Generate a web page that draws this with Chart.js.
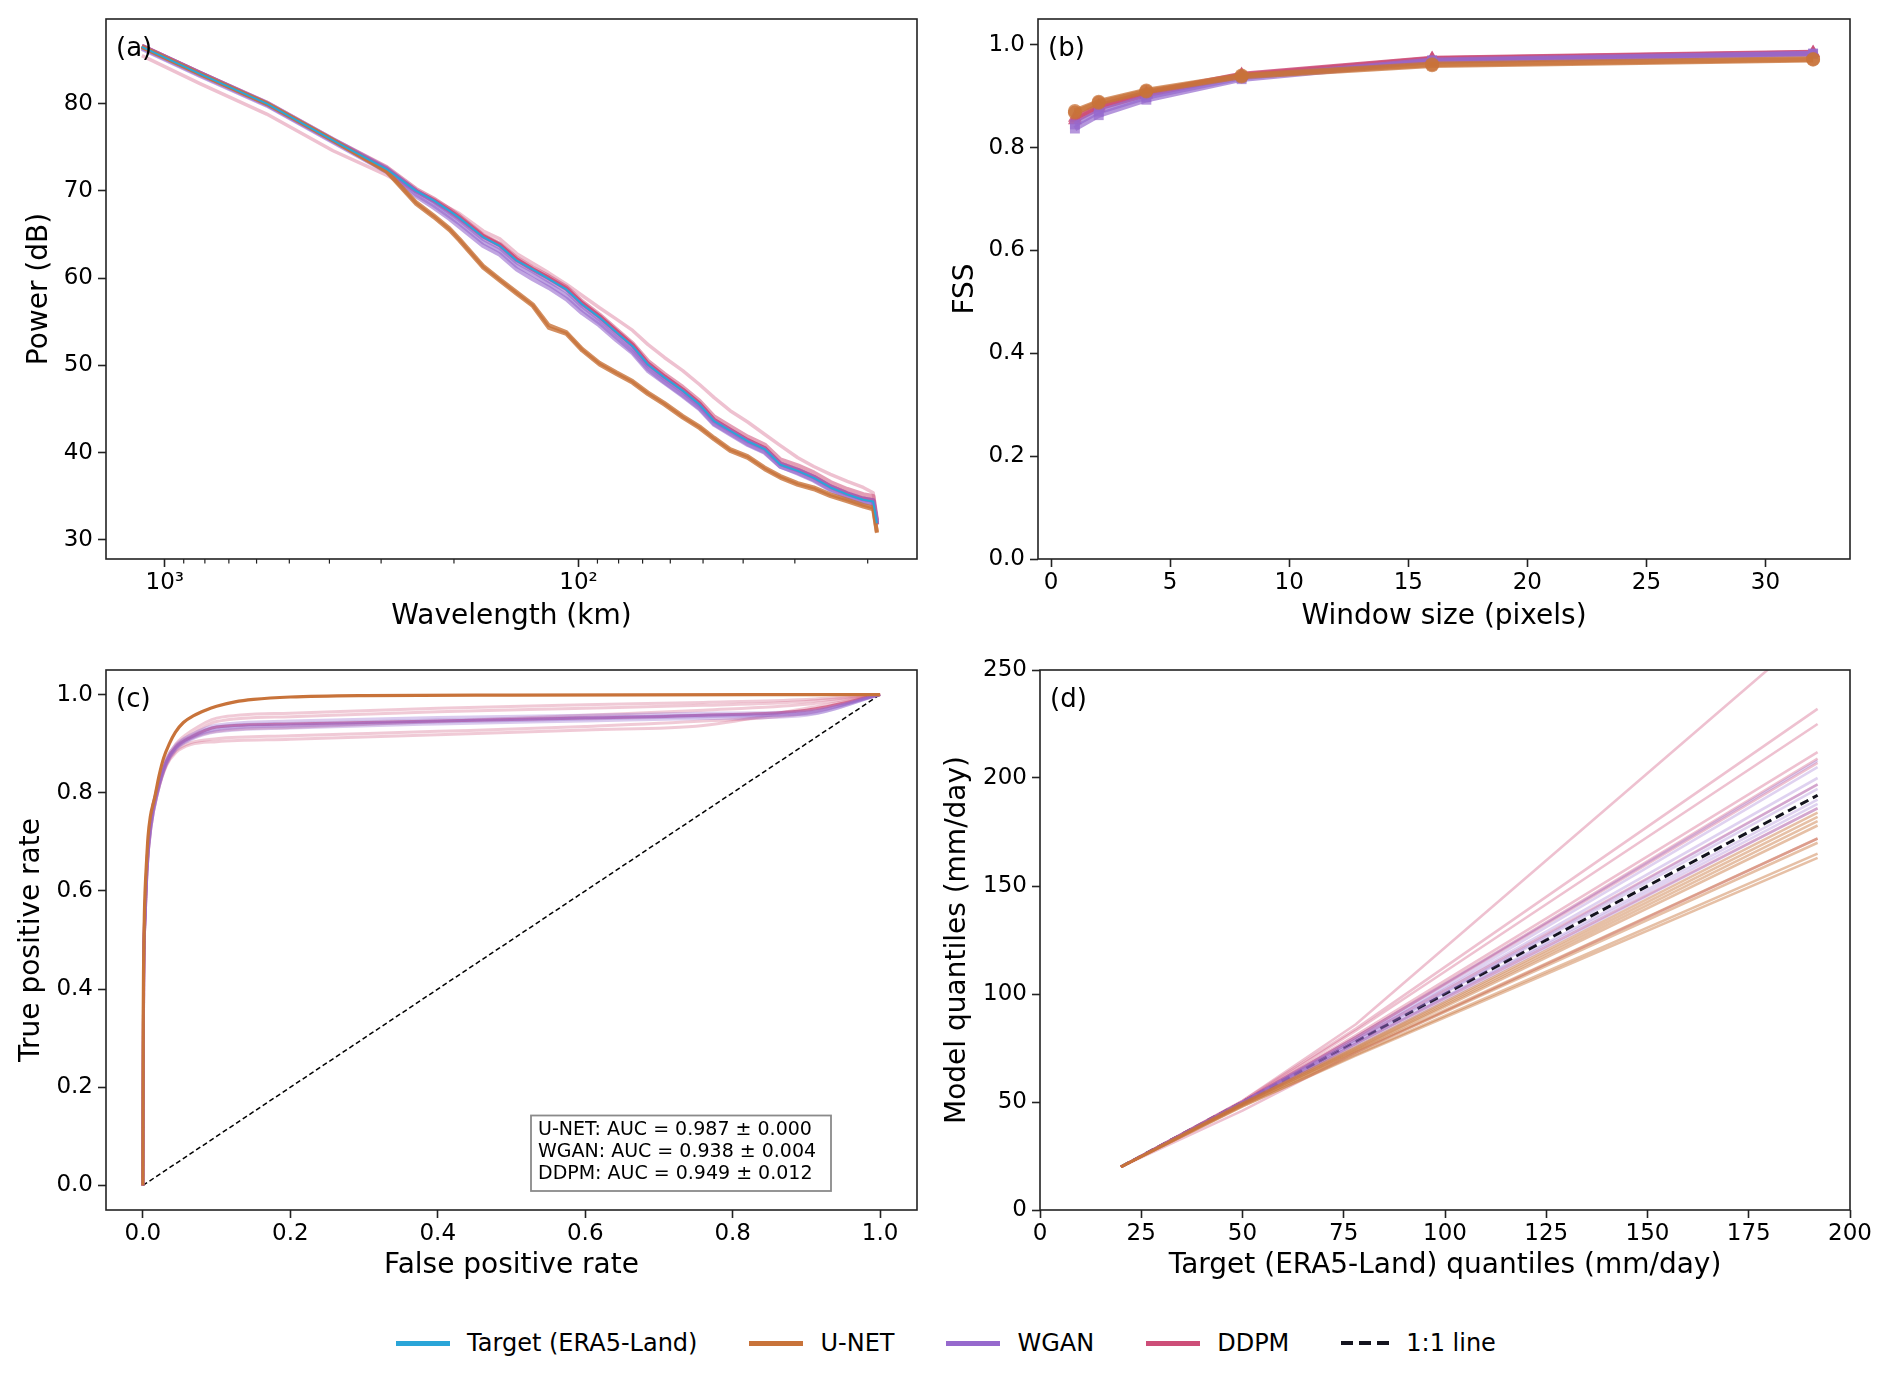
<!DOCTYPE html>
<html lang="en">
<head>
<meta charset="UTF-8">
<title>Downscaling evaluation panels</title>
<script src="https://cdn.jsdelivr.net/npm/chart.js"></script>
<style>
  body { margin: 0; width: 1892px; height: 1376px; background: #fff; position: relative; overflow: hidden; font-family: 'DejaVu Sans', sans-serif; }
  .panel { position: absolute; }
  #legend { position: absolute; left: 0; width: 1892px; top: 1326px; height: 34px; display: flex; justify-content: center; align-items: center; gap: 52px; font-size: 24px; color: #000; }
  #legend .item { display: flex; align-items: center; }
  #legend .sw { width: 54px; height: 5px; margin-right: 17px; }
</style>
</head>
<body>

<div class="panel" style="left:0;top:0;width:946px;height:660px"><canvas id="chartA"></canvas></div>
<div class="panel" style="left:930px;top:0;width:962px;height:660px"><canvas id="chartB"></canvas></div>
<div class="panel" style="left:0;top:640px;width:946px;height:660px"><canvas id="chartC"></canvas></div>
<div class="panel" style="left:930px;top:640px;width:962px;height:660px"><canvas id="chartD"></canvas></div>
<div id="legend"></div>

<script type="text/javascript">
    // ---- series names / colours
    var seriesNames = ['Target (ERA5-Land)', 'U-NET', 'WGAN', 'DDPM', '1:1 line'];
    var C_TARGET = '#2aa5d8', C_UNET = '#c8733a', C_WGAN = '#9669cd', C_DDPM = '#cd4e78', C_ONE = '#14141e';

    // ---- (a) power spectra
    var wavelengths = [1136, 822, 567, 392, 291, 247, 224, 205, 194, 170, 155, 141, 129, 118, 107, 98, 89, 81, 74, 68, 62, 56, 51, 47, 43, 39, 35.5, 32.5, 29.5, 27, 24.6, 22.4, 20.5, 19.4, 19];
    var psdTarget = [86.5, 83.4, 80.0, 75.8, 72.5, 70.0, 68.9, 67.7, 66.9, 64.7, 63.7, 62.0, 61.0, 59.9, 58.7, 57.0, 55.5, 53.8, 52.2, 50.1, 48.6, 47.1, 45.5, 43.6, 42.5, 41.3, 40.4, 38.6, 37.9, 37.1, 36.0, 35.2, 34.6, 34.4, 31.9];
    var psdUnet = [
        [86.5, 83.4, 80.0, 75.8, 72.2, 68.5, 67.0, 65.5, 64.3, 61.2, 59.7, 58.2, 56.8, 54.3, 53.6, 51.7, 50.1, 49.0, 48.0, 46.7, 45.5, 44.0, 42.8, 41.5, 40.2, 39.4, 38.1, 37.1, 36.3, 35.8, 35.0, 34.4, 33.8, 33.5, 30.8],
        [86.5, 83.4, 80.0, 75.8, 72.3, 68.7, 67.2, 65.7, 64.5, 61.4, 59.9, 58.4, 57.0, 54.6, 53.8, 51.9, 50.3, 49.2, 48.2, 46.9, 45.7, 44.2, 43.0, 41.7, 40.4, 39.6, 38.3, 37.3, 36.5, 36.0, 35.2, 34.6, 34.0, 33.7, 30.9]
    ];
    var psdWgan = [
        [86.4, 83.3, 79.9, 75.7, 72.3, 69.6, 68.4, 67.1, 66.3, 64.1, 63.1, 61.4, 60.4, 59.3, 58.0, 56.4, 54.9, 53.2, 51.6, 49.6, 48.1, 46.6, 45.1, 43.3, 42.2, 41.0, 40.1, 38.4, 37.7, 36.9, 35.8, 35.0, 34.4, 34.2, 31.8],
        [86.6, 83.5, 80.1, 75.9, 72.6, 70.0, 68.8, 67.5, 66.7, 64.5, 63.5, 61.8, 60.8, 59.7, 58.5, 56.8, 55.3, 53.6, 52.0, 50.0, 48.5, 47.0, 45.4, 43.6, 42.5, 41.3, 40.4, 38.7, 38.0, 37.2, 36.1, 35.3, 34.7, 34.5, 32.0],
        [86.3, 83.2, 79.8, 75.6, 72.2, 69.4, 68.1, 66.8, 65.9, 63.7, 62.7, 61.0, 59.9, 58.9, 57.6, 56.0, 54.6, 52.9, 51.4, 49.4, 48.0, 46.5, 45.0, 43.2, 42.1, 40.9, 40.0, 38.4, 37.6, 36.8, 35.7, 34.9, 34.3, 34.1, 31.7]
    ];
    var psdDdpm = [
        [86.6, 83.5, 80.0, 75.8, 72.5, 70.0, 68.9, 67.7, 66.9, 64.8, 63.8, 62.1, 61.0, 60.0, 58.8, 57.1, 55.6, 53.9, 52.3, 50.2, 48.7, 47.2, 45.6, 43.7, 42.6, 41.4, 40.5, 38.7, 38.0, 37.2, 36.1, 35.3, 34.7, 34.5, 31.8],
        [85.5, 82.3, 78.8, 74.6, 71.8, 70.0, 69.0, 68.0, 67.4, 65.4, 64.5, 62.8, 61.7, 60.6, 59.3, 58.0, 56.6, 55.3, 54.0, 52.4, 50.9, 49.4, 47.8, 46.3, 44.8, 43.5, 42.1, 40.8, 39.4, 38.4, 37.5, 36.7, 36.0, 35.4, 32.3],
        [86.6, 83.5, 80.1, 75.9, 72.7, 70.2, 69.1, 67.9, 67.1, 64.9, 63.9, 62.3, 61.2, 60.2, 59.0, 57.3, 55.8, 54.1, 52.5, 50.5, 49.0, 47.5, 45.9, 44.1, 43.0, 41.8, 40.9, 39.2, 38.5, 37.7, 36.6, 35.8, 35.2, 35.0, 32.2]
    ];
    var psdMajorTicks = [100, 1000];
    var psdMinorTicks = [20, 30, 40, 50, 60, 70, 80, 90, 200, 300, 400, 500, 600, 700, 800, 900];
    var powerTicks = [30, 40, 50, 60, 70, 80];

    // ---- (b) fractions skill score
    var windowSizes = [1, 2, 4, 8, 16, 32];
    var fssUnet = [[0.871, 0.889, 0.911, 0.940, 0.962, 0.972], [0.868, 0.887, 0.909, 0.938, 0.960, 0.971]];
    var fssWgan = [[0.837, 0.863, 0.893, 0.933, 0.968, 0.982], [0.845, 0.870, 0.898, 0.936, 0.970, 0.983]];
    var fssDdpm = [[0.853, 0.877, 0.903, 0.940, 0.972, 0.984], [0.858, 0.881, 0.906, 0.942, 0.973, 0.985]];
    var windowTicks = [0, 5, 10, 15, 20, 25, 30];
    var fssTicks = [0, 0.2, 0.4, 0.6, 0.8, 1.0];

    // ---- (c) ROC curves
    var rocUnetFpr = [0, 0.0005, 0.001, 0.002, 0.003, 0.005, 0.007, 0.01, 0.016, 0.022, 0.028, 0.036, 0.044, 0.055, 0.069, 0.085, 0.1, 0.125, 0.15, 0.2, 0.3, 0.5, 1.0];
    var rocUnetTpr = [0, 0.35, 0.45, 0.55, 0.60, 0.66, 0.71, 0.75, 0.79, 0.835, 0.87, 0.90, 0.923, 0.943, 0.957, 0.968, 0.976, 0.985, 0.990, 0.995, 0.998, 0.999, 1.0];
    var rocFpr = [0, 0.001, 0.003, 0.006, 0.011, 0.02, 0.032, 0.045, 0.065, 0.1, 0.2, 0.4, 0.6, 0.76, 0.9, 1.0];
    var rocWgan = [
        [0, 0.40, 0.54, 0.65, 0.73, 0.80, 0.86, 0.890, 0.910, 0.928, 0.936, 0.944, 0.950, 0.955, 0.962, 1],
        [0, 0.41, 0.55, 0.66, 0.74, 0.81, 0.865, 0.895, 0.915, 0.934, 0.941, 0.948, 0.953, 0.957, 0.960, 1],
        [0, 0.40, 0.54, 0.65, 0.73, 0.80, 0.858, 0.888, 0.908, 0.924, 0.932, 0.940, 0.946, 0.951, 0.958, 1],
        [0, 0.42, 0.56, 0.67, 0.75, 0.815, 0.87, 0.898, 0.918, 0.938, 0.946, 0.953, 0.958, 0.962, 0.966, 1],
        [0, 0.40, 0.545, 0.655, 0.735, 0.805, 0.862, 0.892, 0.912, 0.930, 0.938, 0.946, 0.952, 0.958, 0.964, 1]
    ];
    var rocDdpm = [
        [0, 0.42, 0.56, 0.67, 0.75, 0.81, 0.868, 0.900, 0.925, 0.952, 0.962, 0.972, 0.979, 0.984, 0.990, 1],
        [0, 0.41, 0.55, 0.66, 0.74, 0.805, 0.862, 0.895, 0.918, 0.945, 0.955, 0.965, 0.972, 0.978, 0.986, 1],
        [0, 0.40, 0.54, 0.65, 0.73, 0.80, 0.855, 0.882, 0.898, 0.904, 0.909, 0.918, 0.928, 0.937, 0.972, 1],
        [0, 0.40, 0.54, 0.65, 0.73, 0.80, 0.857, 0.886, 0.902, 0.910, 0.916, 0.925, 0.935, 0.946, 0.962, 1],
        [0, 0.41, 0.55, 0.66, 0.74, 0.805, 0.86, 0.89, 0.91, 0.925, 0.933, 0.945, 0.958, 0.968, 0.980, 1],
        [0, 0.42, 0.56, 0.67, 0.75, 0.81, 0.865, 0.893, 0.913, 0.934, 0.940, 0.946, 0.952, 0.958, 0.968, 1]
    ];
    var rateTicks = [0, 0.2, 0.4, 0.6, 0.8, 1.0];
    var aucLabels = ['U-NET: AUC = 0.987 \u00b1 0.000', 'WGAN: AUC = 0.938 \u00b1 0.004', 'DDPM: AUC = 0.949 \u00b1 0.012'];

    // ---- (d) quantile-quantile
    var qqTarget = [20, 50, 78, 192];
    var qqUnet = [[20, 49.5, 75.5, 184], [20, 49.5, 75, 182], [20, 49, 74.5, 180], [20, 49, 74, 178], [20, 48.5, 73.5, 172], [20, 48.5, 73, 170], [20, 48, 72, 165], [20, 48, 71.5, 163]];
    var qqWgan = [[20, 50, 80, 208], [20, 50, 79, 205], [20, 50, 79, 200], [20, 50, 78, 197], [20, 49.5, 78, 195], [20, 49.5, 77, 190], [20, 49.5, 77, 188], [20, 49, 76, 186]];
    var qqDdpm = [[20, 50.5, 86, 270], [20, 50.5, 84, 232], [20, 50, 83, 225], [20, 50, 81, 212], [20, 50, 80, 209], [20, 50, 80, 207], [20, 49.5, 79, 197], [20, 49, 77, 186], [20, 46, 73, 172]];
    var qqXTicks = [0, 25, 50, 75, 100, 125, 150, 175, 200];
    var qqYTicks = [0, 50, 100, 150, 200, 250];

    var FONT = "'DejaVu Sans', sans-serif";

    function rgba(hex, a) {
        var n = parseInt(hex.slice(1), 16);
        return 'rgba(' + (n >> 16) + ',' + ((n >> 8) & 255) + ',' + (n & 255) + ',' + a + ')';
    }
    function pts(xs, ys) {
        return xs.map(function (x, i) { return {x: x, y: ys[i]}; });
    }
    function line(xs, ys, color, width, extra) {
        return Object.assign({data: pts(xs, ys), borderColor: color, borderWidth: width,
            pointRadius: 0, tension: 0, fill: false, borderJoinStyle: 'round'}, extra || {});
    }
    var fix1 = function (v) { return Number(v).toFixed(1); };
    var fix0 = function (v) { return String(Math.round(v)); };

    function axis(o) {
        return {
            type: o.type || 'linear', min: o.min, max: o.max, reverse: !!o.reverse,
            afterBuildTicks: function (s) { s.ticks = o.ticks.map(function (v) { return {value: v}; }); },
            afterFit: function (s) {
                if (s.isHorizontal()) s.height = o.size; else s.width = o.size;
                s.paddingLeft = s.paddingRight = s.paddingTop = s.paddingBottom = 0;
            },
            grid: {display: true, drawOnChartArea: false, drawTicks: true, tickLength: 8, tickWidth: 1.6, tickColor: '#222'},
            border: {display: false},
            ticks: {color: '#000', font: {family: FONT, size: 23}, padding: o.tickPad, autoSkip: false, maxRotation: 0, callback: o.fmt},
            title: {display: true, text: o.title, color: '#000', font: {family: FONT, size: 28}, padding: o.titlePad}
        };
    }

    // frame, minor ticks, panel letter, text box
    var decor = {
        id: 'decor',
        afterDraw: function (chart, args, opts) {
            var ctx = chart.ctx, a = chart.chartArea;
            ctx.save();
            if (opts.minor) {
                var xs = chart.scales.x;
                ctx.strokeStyle = '#222';
                ctx.lineWidth = 1.2;
                opts.minor.forEach(function (v) {
                    var px = xs.getPixelForValue(v);
                    ctx.beginPath();
                    ctx.moveTo(px, a.bottom);
                    ctx.lineTo(px, a.bottom + 4.6);
                    ctx.stroke();
                });
            }
            ctx.strokeStyle = '#222';
            ctx.lineWidth = 1.6;
            ctx.strokeRect(a.left, a.top, a.right - a.left, a.bottom - a.top);
            ctx.fillStyle = '#000';
            ctx.font = '26px ' + FONT;
            ctx.textBaseline = 'middle';
            ctx.textAlign = 'left';
            ctx.fillText(opts.label, a.left + 10, a.top + 30);
            if (opts.box) {
                var b = opts.box;
                var x0 = a.right - b.right - b.w, y0 = a.bottom - b.bottom - b.h;
                ctx.fillStyle = '#fff';
                ctx.fillRect(x0, y0, b.w, b.h);
                ctx.strokeStyle = '#8a8a8a';
                ctx.lineWidth = 1.8;
                ctx.strokeRect(x0, y0, b.w, b.h);
                ctx.fillStyle = '#000';
                ctx.font = '19px ' + FONT;
                b.lines.forEach(function (t, i) { ctx.fillText(t, x0 + 7, y0 + 15 + i * 21.7); });
            }
            ctx.restore();
        }
    };

    function makeChart(id, datasets, scales, padding, decorOpts) {
        return new Chart(document.getElementById(id), {
            type: 'line',
            data: {datasets: datasets},
            options: {
                responsive: true, maintainAspectRatio: false, animation: false, events: [],
                layout: {padding: padding},
                scales: scales,
                plugins: {legend: {display: false}, tooltip: {enabled: false}, decor: decorOpts}
            },
            plugins: [decor]
        });
    }

    // ---- (a)
    var dsA = [line(wavelengths, psdTarget, C_TARGET, 2)];
    psdUnet.forEach(function (m) { dsA.push(line(wavelengths, m, rgba(C_UNET, 0.8), 4)); });
    psdWgan.forEach(function (m) { dsA.push(line(wavelengths, m, rgba(C_WGAN, 0.6), 4.5)); });
    psdDdpm.forEach(function (m, i) { dsA.push(line(wavelengths, m, rgba(C_DDPM, i === 1 ? 0.35 : (i === 0 ? 0.95 : 0.55)), i === 1 ? 3.5 : 4.5)); });
    makeChart('chartA', dsA, {
        x: axis({type: 'logarithmic', min: 15.2, max: 1387, reverse: true, ticks: psdMajorTicks, size: 101, tickPad: 2,
            fmt: function (v) { return v === 1000 ? '10\u00b3' : (v === 100 ? '10\u00b2' : ''); },
            title: 'Wavelength (km)', titlePad: 26}),
        y: axis({min: 27.8, max: 89.7, ticks: powerTicks, size: 106, tickPad: 5, fmt: fix0, title: 'Power (dB)', titlePad: 23})
    }, {left: 0, right: 29, top: 19, bottom: 0}, {label: '(a)', minor: psdMinorTicks});

    // ---- (b)
    var dsB = [];
    function fssSet(list, color, alpha, style, rad) {
        list.forEach(function (m) {
            dsB.push(line(windowSizes, m, rgba(color, alpha), 5.5, {pointRadius: rad, pointStyle: style,
                pointBackgroundColor: rgba(color, alpha), pointBorderWidth: 0}));
        });
    }
    fssSet(fssUnet, C_UNET, 0.75, 'circle', 7);
    fssSet(fssWgan, C_WGAN, 0.7, 'rect', 7);
    fssSet(fssDdpm, C_DDPM, 0.85, 'triangle', 8);
    makeChart('chartB', dsB, {
        x: axis({min: -0.55, max: 33.55, ticks: windowTicks, size: 101, tickPad: 2, fmt: fix0, title: 'Window size (pixels)', titlePad: 26}),
        y: axis({min: 0, max: 1.05, ticks: fssTicks, size: 108, tickPad: 5, fmt: fix1, title: 'FSS', titlePad: 19})
    }, {left: 0, right: 42, top: 19, bottom: 0}, {label: '(b)'});

    // ---- (c)
    var smooth = {cubicInterpolationMode: 'monotone'};
    var dsC = [line(rocUnetFpr, rocUnetTpr, C_UNET, 3.2, smooth)];
    rocWgan.forEach(function (m) { dsC.push(line(rocFpr, m, rgba(C_WGAN, 0.35), 3, smooth)); });
    rocDdpm.forEach(function (m, i) { dsC.push(line(rocFpr, m, rgba(C_DDPM, i === rocDdpm.length - 1 ? 0.75 : 0.3), 3, smooth)); });
    dsC.push(line([0, 1], [0, 1], '#000', 1.5, {borderDash: [5, 3]}));
    makeChart('chartC', dsC, {
        x: axis({min: -0.05, max: 1.05, ticks: rateTicks, size: 90, tickPad: 2, fmt: fix1, title: 'False positive rate', titlePad: 17}),
        y: axis({min: -0.05, max: 1.05, ticks: rateTicks, size: 106, tickPad: 5, fmt: fix1, title: 'True positive rate', titlePad: 15})
    }, {left: 0, right: 29, top: 30, bottom: 0}, {label: '(c)', box: {lines: aucLabels, w: 300, h: 75.5, right: 86, bottom: 19}});

    // ---- (d)
    var dsD = [];
    qqUnet.forEach(function (m) { dsD.push(line(qqTarget, m, rgba(C_UNET, 0.45), 2.6)); });
    qqWgan.forEach(function (m) { dsD.push(line(qqTarget, m, rgba(C_WGAN, 0.3), 2.6)); });
    qqDdpm.forEach(function (m) { dsD.push(line(qqTarget, m, rgba(C_DDPM, 0.35), 2.6)); });
    dsD.push(line([qqTarget[0], qqTarget[qqTarget.length - 1]], [qqTarget[0], qqTarget[qqTarget.length - 1]], C_ONE, 3, {borderDash: [9, 5]}));
    makeChart('chartD', dsD, {
        x: axis({min: 0, max: 200, ticks: qqXTicks, size: 90, tickPad: 2, fmt: fix0, title: 'Target (ERA5-Land) quantiles (mm/day)', titlePad: 17}),
        y: axis({min: 0, max: 250, ticks: qqYTicks, size: 110, tickPad: 5, fmt: fix0, title: 'Model quantiles (mm/day)', titlePad: 11})
    }, {left: 0, right: 42, top: 30, bottom: 0}, {label: '(d)'});

    // ---- shared legend
    var swatches = [C_TARGET, C_UNET, C_WGAN, C_DDPM, null];
    var legend = document.getElementById('legend');
    seriesNames.forEach(function (name, i) {
        var item = document.createElement('div');
        item.className = 'item';
        var sw = document.createElement('div');
        sw.className = 'sw';
        if (swatches[i]) {
            sw.style.background = swatches[i];
        } else {
            sw.style.width = '48px';
            sw.style.height = '4px';
            sw.style.background = 'repeating-linear-gradient(to right, ' + C_ONE + ' 0 12px, transparent 12px 18px)';
        }
        var tx = document.createElement('span');
        tx.textContent = name;
        item.appendChild(sw);
        item.appendChild(tx);
        legend.appendChild(item);
    });
</script>

</body>
</html>
